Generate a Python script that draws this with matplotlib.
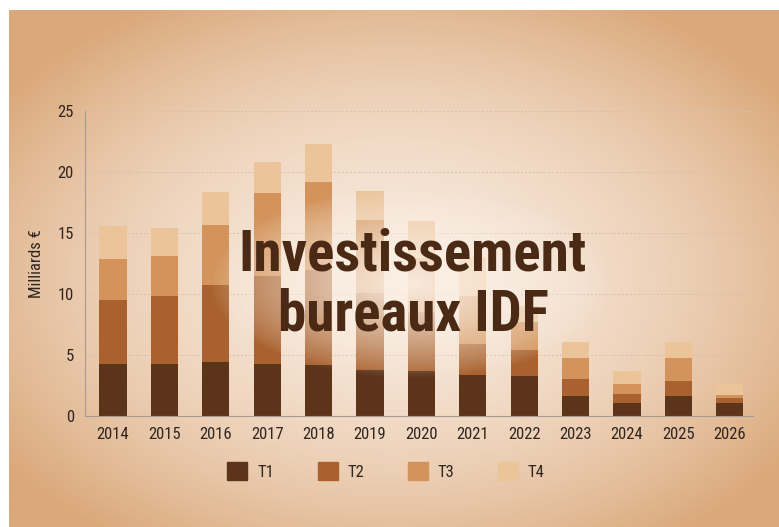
import matplotlib.pyplot as plt
import matplotlib.patches as mpatches
import numpy as np

# Investissement bureaux IDF, milliards d'euros par trimestre
years = ['2014', '2015', '2016', '2017', '2018', '2019', '2020',
         '2021', '2022', '2023', '2024', '2025', '2026']
t1 = [4.3, 4.25, 4.45, 4.3, 4.2, 3.75, 3.65, 3.4, 3.3, 1.65, 1.1, 1.65, 1.1]
t2 = [5.2, 5.6, 6.3, 7.2, 7.8, 6.3, 4.9, 2.5, 2.1, 1.4, 0.7, 1.25, 0.35]
t3 = [3.35, 3.3, 4.9, 6.8, 7.2, 6.0, 4.4, 3.9, 2.3, 1.7, 0.85, 1.85, 0.3]
t4 = [2.7, 2.3, 2.7, 2.5, 3.1, 2.4, 3.0, 3.2, 1.3, 1.35, 1.0, 1.35, 0.9]
series_labels = ['T1', 'T2', 'T3', 'T4']
colors = ['#5c3419', '#a9622f', '#d3935a', '#ebc49a']

narrow = ['Liberation Sans Narrow', 'Roboto Condensed', 'Roboto', 'DejaVu Sans']

W, H = 779, 527
fig = plt.figure(figsize=(W / 100, H / 100), dpi=100, facecolor='white')

# peach background with a soft vignette
bg = fig.add_axes([9 / W, 0, 1 - 9 / W, 1 - 10 / H], zorder=0)
ny, nx = 260, 385
yy, xx = np.mgrid[0:1:ny * 1j, 0:1:nx * 1j]
r = np.sqrt(((xx - 0.5) / 0.62) ** 2 + ((yy - 0.52) / 0.62) ** 2)
r = np.clip(r, 0, 1) ** 1.8
c_in = np.array([248, 233, 220]) / 255
c_out = np.array([218, 168, 122]) / 255
img = c_in[None, None, :] * (1 - r[..., None]) + c_out[None, None, :] * r[..., None]
bg.imshow(img, aspect='auto', extent=[0, 1, 0, 1], interpolation='bicubic')
bg.axis('off')

ax = fig.add_axes([85 / W, (H - 416) / H, 668 / W, 305 / H], zorder=1)
ax.patch.set_alpha(0)

x = np.arange(len(years))
bottom = np.zeros(len(years))
for vals, col, lab in zip([t1, t2, t3, t4], colors, series_labels):
    ax.bar(x, vals, width=0.53, bottom=bottom, color=col, label=lab, zorder=2)
    bottom += np.array(vals)

ax.set_xlim(-0.545, 12.45)
ax.set_ylim(0, 25)
ax.set_yticks([0, 5, 10, 15, 20, 25])
ax.set_xticks(x)
ax.set_xticklabels(years)
ax.yaxis.grid(True, linestyle=(0, (2, 2)), color='#d6c0ac', linewidth=0.7, zorder=0)
ax.set_axisbelow(True)
for s in ['top', 'right']:
    ax.spines[s].set_visible(False)
for s in ['left', 'bottom']:
    ax.spines[s].set_color('#a89a8e')
    ax.spines[s].set_linewidth(0.8)
ax.tick_params(axis='both', length=0, colors='#2f2620', labelsize=12, pad=8)
for lbl in ax.get_xticklabels() + ax.get_yticklabels():
    lbl.set_family(narrow)
ax.set_ylabel('Milliards €', fontsize=12, color='#2f2620', family=narrow, labelpad=10)

# white haze behind the title
glow = fig.add_axes([0, 0, 1, 1], zorder=2)
gy, gx = np.mgrid[0:1:200j, 0:1:300j]
d = np.sqrt(((gx - 0.53) / 0.26) ** 2 + ((gy - (1 - 283 / H)) / 0.18) ** 2)
alpha = np.clip(1 - d, 0, 1) ** 0.75 * 0.95
haze = np.zeros((200, 300, 4))
haze[..., :3] = np.array([251, 240, 229]) / 255
haze[..., 3] = alpha
glow.imshow(haze, aspect='auto', extent=[0, 1, 0, 1], origin='lower', interpolation='bicubic')
glow.set_xlim(0, 1)
glow.set_ylim(0, 1)
glow.axis('off')

fig.text(413 / W, 1 - 285 / H, 'Investissement\nbureaux IDF', ha='center', va='center',
         fontsize=41, fontweight='bold', color='#4b2a15', family=narrow,
         linespacing=1.1, zorder=5)

handles = [mpatches.Patch(color=c, label=l) for c, l in zip(colors, series_labels)]
leg = fig.legend(handles=handles, loc='center', bbox_to_anchor=(386 / W, 1 - 471 / H),
                 ncol=4, frameon=False, handlelength=1.2, handleheight=1.2,
                 columnspacing=2.6, handletextpad=0.6,
                 prop={'family': narrow, 'size': 12})
for t in leg.get_texts():
    t.set_color('#2f2620')

fig.savefig('out.png', dpi=100, facecolor='white')
